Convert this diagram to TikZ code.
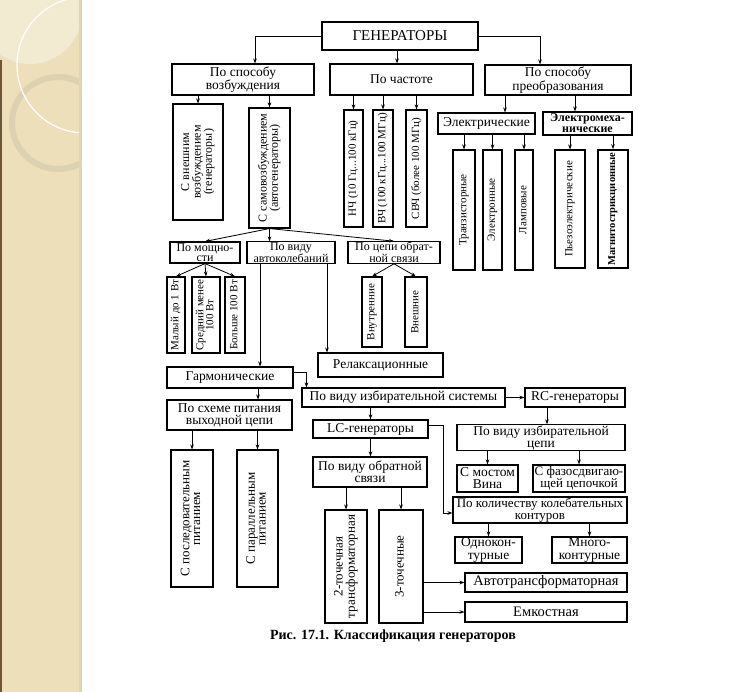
\documentclass[tikz,border=0pt]{standalone}
\usepackage{fontspec}
\setmainfont{Liberation Serif}
\usepackage{tikz}
\usetikzlibrary{arrows.meta}

\definecolor{sand}{RGB}{236,223,186}
\definecolor{sandlight}{RGB}{243,234,210}
\definecolor{sandring}{RGB}{220,210,178}
\definecolor{sandshade}{RGB}{226,212,172}
\definecolor{sandedge}{RGB}{110,85,55}

\newcommand{\vtxt}[1]{\rotatebox{90}{\begin{tabular}{@{}c@{}}#1\end{tabular}}}
\renewcommand{\arraystretch}{0.82}

\tikzset{
  blk/.style={draw, line width=1.1pt, inner sep=0.5pt, align=center, font=\fontsize{13.5}{12}\selectfont},
  smallblk/.style={blk, font=\fontsize{12}{10.5}\selectfont},
  vblk/.style={blk, font=\fontsize{11}{11}\selectfont},
  bigvblk/.style={blk, font=\fontsize{13}{13}\selectfont},
  sz/.style 2 args={minimum width=#1, minimum height=#2},
  arr/.style={-{Stealth[length=5pt,width=3.6pt]}, line width=0.8pt},
}

\begin{document}
\begin{tikzpicture}[x=1pt, y=-1pt, >=Stealth]
    \useasboundingbox (0,0) rectangle (746,692);
    \fill[white] (0,0) rectangle (746,692);

    % полоса слайда слева
    \begin{scope}
        \clip (0,0) rectangle (82,692);
        \fill[sand] (0,0) rectangle (82,692);
        \fill[sandlight] (30,12) circle (52);
        \draw[sandring, line width=6pt] (58,123) circle (46);
        \draw[white, line width=1.2pt] (85,65) circle (68);
        \fill[sandshade] (79,0) rectangle (82,692);
        \fill[sandedge] (0,60) rectangle (1.6,692);
    \end{scope}

    % верхний уровень
    \node[blk, sz={156}{28}, line width=1.5pt, font=\fontsize{15}{15}\selectfont] (gen) at (400,36) {ГЕНЕРАТОРЫ};
    \node[blk, sz={142}{31}] (exc) at (243,79.5) {По способу\\возбуждения};
    \node[blk, sz={143}{31}] (freq) at (401.5,79.5) {По частоте};
    \node[blk, sz={146}{30}] (conv) at (558,80) {По способу\\преобразования};
    \draw[arr] (gen.west) -| ([xshift=12pt]exc.north);
    \draw[arr] ([xshift=-3pt]gen.south) -- ([xshift=-3pt]gen.south |- freq.north);
    \draw[arr] (gen.east) -| ([xshift=-18pt]conv.north);

    % по способу возбуждения
    \node[vblk, sz={50}{116}, font=\fontsize{12}{12}\selectfont] (ext) at (198,162) {\vtxt{С внешним\\возбуждением\\(генераторы)}};
    \node[vblk, sz={41}{120}, font=\fontsize{12}{12}\selectfont] (self) at (269.5,168) {\vtxt{С самовозбуждением\\(автогенераторы)}};
    \draw[arr] (exc.south -| ext) -- (ext);
    \draw[arr] (exc.south -| self) -- (self);

    % по частоте
    \node[vblk, sz={19}{117}] (nch) at (353.5,168.5) {\vtxt{НЧ (10 Гц...100 кГц)}};
    \node[vblk, sz={20}{117}] (vch) at (383,168.5) {\vtxt{ВЧ (100 кГц...100 МГц)}};
    \node[vblk, sz={21}{117}] (svch) at (416.5,168.5) {\vtxt{СВЧ (более 100 МГц)}};
    \draw[arr] (freq.south -| nch) -- (nch);
    \draw[arr] (freq.south -| vch) -- (vch);
    \draw[arr] (freq.south -| svch) -- (svch);

    % по способу преобразования
    \node[blk, sz={97}{21}] (elec) at (486.5,123.5) {Электрические};
    \node[blk, sz={89}{23}, font=\bfseries\fontsize{12}{11}\selectfont] (elmech) at (587.5,123.5) {Электромеха-\\нические};
    \draw[arr] ([xshift=-53pt]conv.south) -- ([xshift=-53pt]conv.south |- elec.north);
    \draw[arr] ([xshift=17pt]conv.south) -- ([xshift=17pt]conv.south |- elmech.north);
    \node[vblk, sz={22}{120}] (trans) at (464,210) {\vtxt{Транзисторные}};
    \node[vblk, sz={19}{120}] (electr) at (492.5,210) {\vtxt{Электронные}};
    \node[vblk, sz={18}{120}] (lamp) at (524,210) {\vtxt{Ламповые}};
    \node[vblk, sz={30}{118}] (piezo) at (570,209) {\vtxt{Пьезоэлектрические}};
    \node[vblk, sz={30}{118}, line width=1.6pt, font=\bfseries\fontsize{10.5}{10.5}\selectfont] (magn) at (613,209) {\vtxt{Магнитострикционные}};
    \draw[arr] (elec.south -| trans) -- (trans);
    \draw[arr] (elec.south -| electr) -- (electr);
    \draw[arr] (elec.south -| lamp) -- (lamp);
    \draw[arr] (elmech.south -| piezo) -- (piezo);
    \draw[arr] (elmech.south -| magn) -- (magn);

    % автогенераторы
    \node[smallblk, sz={70}{21}] (power) at (205,252.5) {По мощно-\\сти};
    \node[smallblk, sz={88}{21}] (osc) at (291,252.5) {По виду\\автоколебаний};
    \node[smallblk, sz={92}{21}] (fb) at (394,252.5) {По цепи обрат-\\ной связи};
    \draw[arr] (self.south) -- (power.north);
    \draw[arr] (self.south) -- (self.south |- osc.north);
    \draw[arr] (self.south) -- (fb.north);

    \node[vblk, sz={18}{76}] (low) at (176,315) {\vtxt{Малый до 1 Вт}};
    \node[vblk, sz={28}{76}] (mid) at (206,315) {\vtxt{Средний менее\\100 Вт}};
    \node[vblk, sz={20}{76}] (high) at (235,315) {\vtxt{Больше 100 Вт}};
    \draw[arr] (power.south) -- (low.north);
    \draw[arr] (power.south) -- (mid.north);
    \draw[arr] (power.south) -- (high.north);

    \node[vblk, sz={20}{70}] (inner) at (372,312) {\vtxt{Внутренние}};
    \node[vblk, sz={22}{70}] (outer) at (416,312) {\vtxt{Внешние}};
    \draw[arr] (fb.south) -- (inner.north);
    \draw[arr] (fb.south) -- (outer.north);

    \node[blk, sz={125}{24}] (rel) at (380.5,365) {Релаксационные};
    \node[blk, sz={126}{21}] (harm) at (230,377.5) {Гармонические};
    \draw[arr] ([xshift=36pt]osc.south) -- ([xshift=36pt]osc.south |- rel.north);
    \draw[arr] ([xshift=-31pt]osc.south) -- ([xshift=-31pt]osc.south |- harm.north);

    % гармонические
    \node[blk, sz={203}{19}] (sel) at (403.5,397.5) {По виду избирательной системы};
    \draw[arr] ([yshift=5pt]harm.east) -| ([xshift=5pt]sel.north west);
    \node[blk, sz={125}{30}] (supply) at (229.5,415) {По схеме питания\\выходной цепи};
    \draw[arr] ([xshift=28pt]harm.south) -- ([xshift=28pt]harm.south |- supply.north);
    \node[bigvblk, sz={42}{137}] (series) at (192,518.5) {\vtxt{С последовательным\\питанием}};
    \node[bigvblk, sz={41}{137}] (parallel) at (257.5,518.5) {\vtxt{С параллельным\\питанием}};
    \draw[arr] (supply.south -| series) -- (series);
    \draw[arr] (supply.south -| parallel) -- (parallel);

    % RC-генераторы
    \node[blk, sz={100}{19}] (rc) at (575,397.5) {RC-генераторы};
    \draw[arr] (sel) -- (rc);
    \node[blk, sz={168}{25}] (selc) at (541,437.5) {По виду избирательной\\цепи};
    \draw[arr] ([xshift=-28pt]rc.south) -- ([xshift=-28pt]rc.south |- selc.north);
    \node[blk, sz={61}{27}] (wien) at (487.5,478.5) {С мостом\\Вина};
    \node[blk, sz={92}{27}, font=\fontsize{13}{12}\selectfont] (phase) at (579,478.5) {С фазосдвигаю-\\щей цепочкой};
    \draw[arr] (selc.south -| wien) -- (wien);
    \draw[arr] (selc.south -| phase) -- (phase);

    % LC-генераторы
    \node[blk, sz={115}{18}] (lc) at (370.5,429) {LC-генераторы};
    \draw[arr] (sel.south -| lc) -- (lc);
    \node[blk, sz={114}{30}] (fbt) at (370,472) {По виду обратной\\связи};
    \draw[arr] (lc.south) -- (lc.south |- fbt.north);
    \node[blk, sz={174}{26}, font=\fontsize{13}{12}\selectfont] (count) at (540,510) {По количеству колебательных\\контуров};
    \draw[arr] ([yshift=4pt]lc.east) -- ++(15,0) |- ([yshift=-3pt]count.west);

    \node[bigvblk, sz={42}{113}] (two) at (346,566.5) {\vtxt{2-точечная\\трансформаторная}};
    \node[bigvblk, sz={44}{113}] (three) at (401,566.5) {\vtxt{3-точечные}};
    \draw[arr] (fbt.south -| two) -- (two);
    \draw[arr] (fbt.south -| three) -- (three);

    \node[blk, sz={67}{26}, font=\fontsize{13.5}{12.5}\selectfont] (single) at (488.5,550) {Однокон-\\турные};
    \node[blk, sz={75}{26}, font=\fontsize{13.5}{12.5}\selectfont] (multi) at (589.5,550) {Много-\\контурные};
    \draw[arr] (count.south -| single) -- (single);
    \draw[arr] (count.south -| multi) -- (multi);

    \node[blk, sz={162}{19}, font=\fontsize{14.5}{14.5}\selectfont] (auto) at (546,582.5) {Автотрансформаторная};
    \node[blk, sz={162}{20}, font=\fontsize{14.5}{14.5}\selectfont] (capac) at (546,612) {Емкостная};
    \draw[arr] (three.east |- auto) -- (auto);
    \draw[arr] (three.east |- capac) -- (capac);

    % подпись
    \node[font=\bfseries\fontsize{14}{14}\selectfont] (caption) at (393,636) {Рис. 17.1. Классификация генераторов};
\end{tikzpicture}
\end{document}
